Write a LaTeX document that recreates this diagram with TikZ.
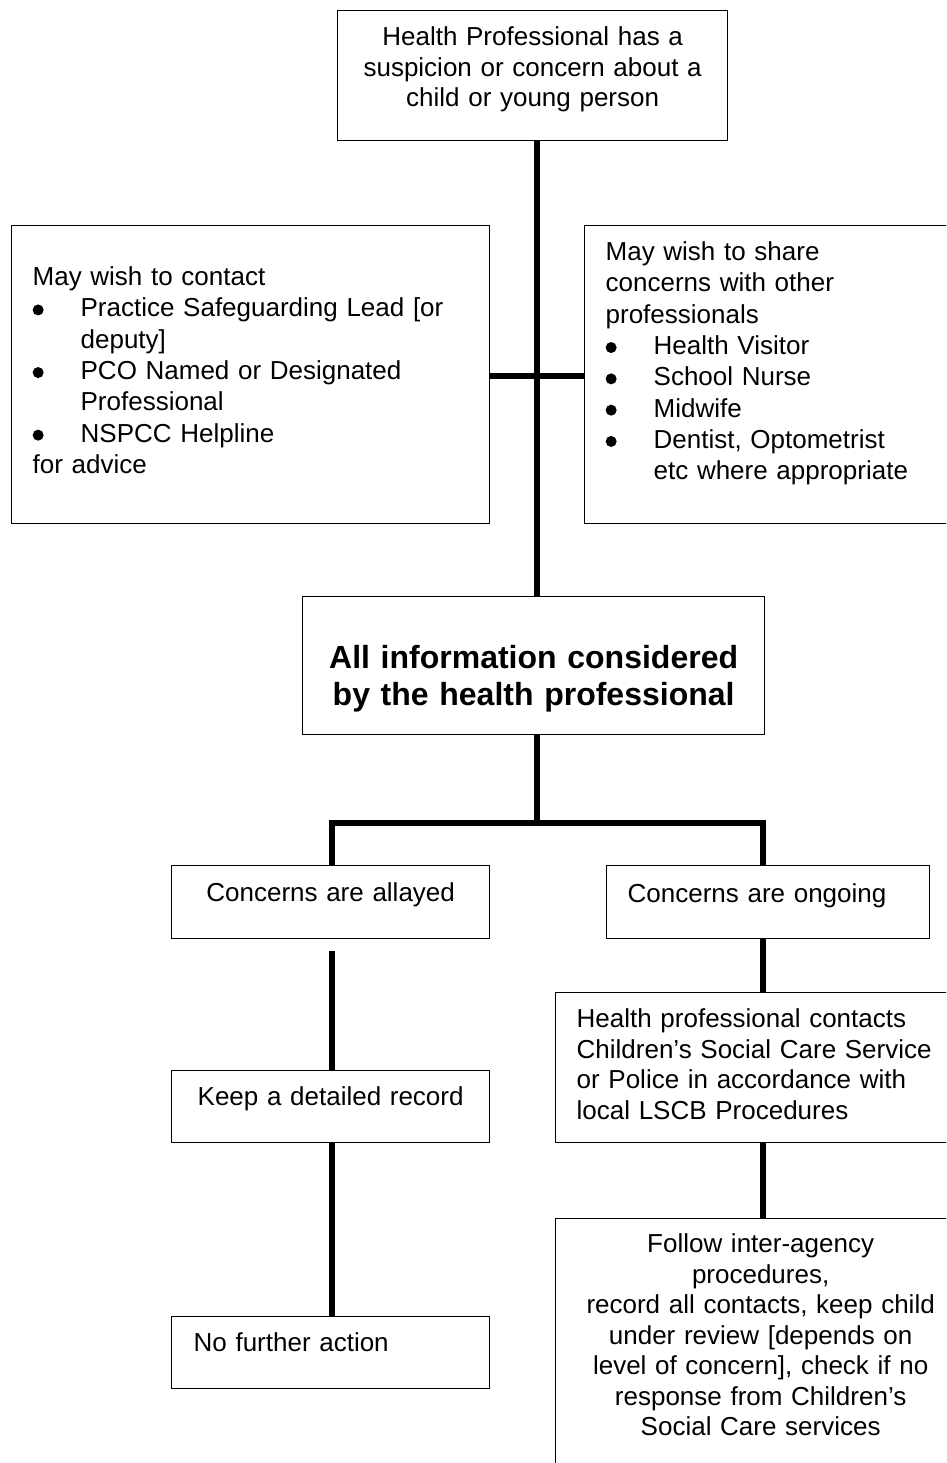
\documentclass[tikz,border=0pt]{standalone}
\usepackage{fontspec}
\setmainfont{Liberation Sans}
\usetikzlibrary{calc}
\newcommand{\blt}{\makebox[48pt][l]{\tikz[baseline=-7pt, x=1pt, y=1pt]\fill (5.5,0) circle[radius=5.5pt];}}
\newcommand{\hng}{\hspace*{48pt}}
\tikzset{
  boxnode/.style={draw, line width=1.3pt, anchor=north west, inner ysep=0pt, inner xsep=21pt,
    font=\fontsize{26}{30.5}\selectfont},
  listnode/.style={boxnode, align=left, font=\fontsize{26}{31.3}\selectfont},
  conn/.style={line width=5.5pt}
}
\begin{document}
\begin{tikzpicture}[x=1pt, y=-1pt]
  \useasboundingbox (0,0) rectangle (946,1463);
  \clip (0,0) rectangle (946,1463);
  % boxes
  \node[boxnode, inner xsep=8pt, text width=374pt, align=center, text height=35pt, text depth=95pt]
    (tophp) at (337,10) {Health Professional has a\\ suspicion or concern about a\\ child or young person};
  \node[listnode, text width=436pt, text height=60pt, text depth=238pt] (leftc) at (11,225)
    {May wish to contact\\ \blt Practice Safeguarding Lead [or\\ \hng deputy]\\
     \blt PCO Named or Designated\\ \hng Professional\\ \blt NSPCC Helpline\\ for advice};
  \node[listnode, text width=354pt, text height=35pt, text depth=263pt] (rightc) at (584,225)
    {May wish to share\\ concerns with other\\ professionals\\ \blt Health Visitor\\ \blt School Nurse\\
     \blt Midwife\\ \blt Dentist, Optometrist\\ \hng etc where appropriate};
  \node[boxnode, inner xsep=10pt, text width=442pt, align=center, text height=72pt, text depth=66pt,
    font=\fontsize{32}{37}\selectfont\bfseries] (midinfo) at (302,596)
    {All information considered\\ by the health professional};
  \node[boxnode, inner xsep=10pt, text width=298pt, align=center, text height=36pt, text depth=37pt]
    (allayed) at (171,865) {Concerns are allayed};
  \node[boxnode, text width=281pt, align=left, text height=37pt, text depth=36pt]
    (ongoing) at (606,865) {Concerns are ongoing};
  \node[boxnode, inner xsep=10pt, text width=298pt, align=center, text height=35pt, text depth=37pt]
    (keep) at (171,1070) {Keep a detailed record};
  \node[boxnode, inner xsep=22pt, text width=274pt, align=left, text height=35pt, text depth=37pt]
    (nofurther) at (171,1316) {No further action};
  \node[boxnode, text width=368pt, align=left, text height=35pt, text depth=115pt]
    (contacts) at (555,992) {Health professional contacts\\ Children’s Social Care Service\\
     or Police in accordance with\\ local LSCB Procedures};
  \node[boxnode, inner xsep=10pt, text width=390pt, align=center, text height=34pt, text depth=262pt]
    (follow) at (555,1218) {Follow inter-agency\\ procedures,\\ record all contacts, keep child\\
     under review [depends on\\ level of concern], check if no\\ response from Children’s\\ Social Care services};
  % connectors
  \coordinate (spine) at (537,0);
  \coordinate (share) at (537,376);
  \coordinate (fork) at (537,823);
  \coordinate (lcol) at (332,0);
  \coordinate (rcol) at (763,0);
  \draw[conn] (tophp.south -| spine) -- (midinfo.north -| spine);
  \draw[conn] (leftc.east |- share) -- (rightc.west |- share);
  \draw[conn] (midinfo.south -| spine) -- (fork);
  \draw[conn] (allayed.north -| lcol) -- (lcol |- fork) -- (rcol |- fork) -- (ongoing.north -| rcol);
  \draw[conn] ($(allayed.south -| lcol)+(0,12)$) -- (keep.north -| lcol);
  \draw[conn] (keep.south -| lcol) -- (nofurther.north -| lcol);
  \draw[conn] (ongoing.south -| rcol) -- (contacts.north -| rcol);
  \draw[conn] (contacts.south -| rcol) -- (follow.north -| rcol);
\end{tikzpicture}
\end{document}
